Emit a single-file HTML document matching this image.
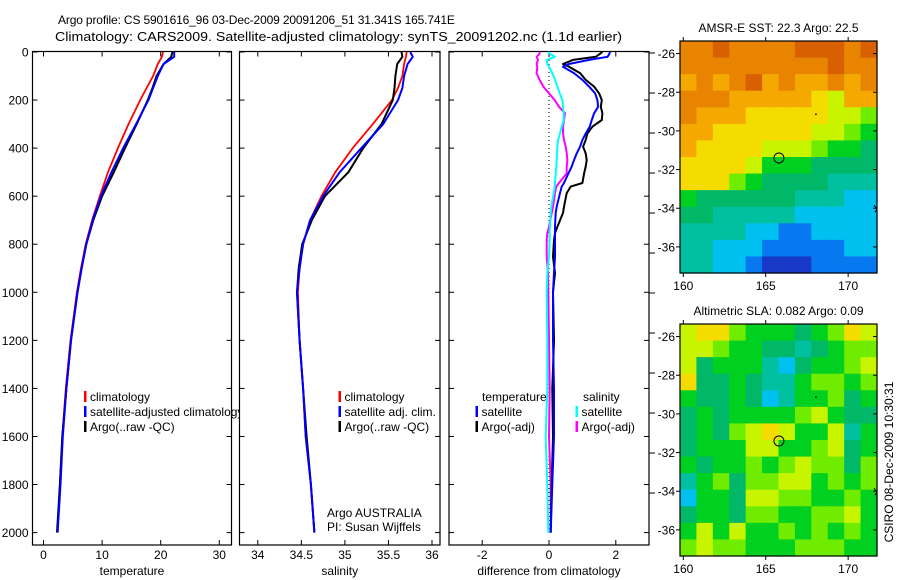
<!DOCTYPE html>
<html><head><meta charset="utf-8"><style>
html,body{margin:0;padding:0;background:#fff;}
svg{display:block;font-family:"Liberation Sans",sans-serif;}
</style></head><body>
<svg id="fig" width="900" height="580" viewBox="0 0 900 580" xmlns="http://www.w3.org/2000/svg">
<text x="58" y="24" font-size="12" letter-spacing="-0.15">Argo profile: CS 5901616_96 03-Dec-2009 20091206_51 31.341S 165.741E</text>
<text x="55" y="41" font-size="13" textLength="567" lengthAdjust="spacingAndGlyphs">Climatology: CARS2009. Satellite-adjusted climatology: synTS_20091202.nc (1.1d earlier)</text>
<g id="maps"></g>
<g id="panels"></g>
<text transform="translate(893,462) rotate(-90)" text-anchor="middle" font-size="12">CSIRO 08-Dec-2009 10:30:31</text>
</svg>
<script>
// ---- profile data ----
const depthT = [0,20,50,100,150,200,300,400,500,600,700,800,900,1000,1200,1400,1600,1800,2000];
const tempClim = [20.4,20.2,19.5,18.7,17.6,16.5,14.5,12.7,11,9.6,8.3,7.2,6.4,5.7,4.6,3.8,3.2,2.8,2.4];
const tempSat = [22.3,22.3,20.5,19.5,18.7,17.9,15.8,13.6,11.6,9.8,8.4,7.3,6.5,5.8,4.7,3.9,3.3,2.9,2.4];
const tempArgo = [22.0,21.8,20.5,19.3,18.6,17.8,15.9,13.9,12,10,8.5,7.3,6.5,5.8,4.7,3.9,3.2,2.8,2.3];
const salClim = [35.71,35.70,35.68,35.66,35.61,35.54,35.32,35.09,34.89,34.73,34.6,34.52,34.48,34.46,34.48,34.52,34.55,34.61,34.65];
const salSat = [35.75,35.78,35.72,35.68,35.66,35.61,35.44,35.19,34.94,34.75,34.6,34.52,34.48,34.45,34.48,34.52,34.55,34.61,34.65];
const salArgo = [35.65,35.66,35.6,35.58,35.57,35.55,35.42,35.21,35.04,34.77,34.62,34.51,34.47,34.45,34.48,34.52,34.56,34.61,34.65];
const depthD = [0,10,20,33,50,61,88,116,144,172,200,228,255,283,311,339,366,394,422,450,477,505,545,560,587,644,670,727,754,783,852,920,1000,1200,1400,1600,1800,2000];
const tDiffSat = [1.83,1.8,1.75,1.2,0.6,0.42,0.75,1.0,1.2,1.38,1.45,1.47,1.35,1.28,1.22,1.1,1.0,0.93,0.83,0.75,0.68,0.58,0.45,0.38,0.33,0.23,0.2,0.18,0.18,0.18,0.18,0.15,0.12,0.12,0.15,0.15,0.1,0.05];
const tDiffArgo = [1.6,1.5,1.4,0.72,0.42,0.6,0.93,1.1,1.35,1.5,1.58,1.55,1.6,1.58,1.3,1.15,1.1,1.02,1.1,1.13,1.1,1.05,1.0,0.65,0.53,0.45,0.42,0.25,0.18,0.15,0.12,0.18,0.12,0.15,0.1,0.12,0.08,0.05];
const sDiffSat = [-0.02,0.05,0.18,-0.07,-0.05,0.0,0.1,0.18,0.25,0.32,0.4,0.42,0.44,0.44,0.38,0.33,0.27,0.25,0.24,0.23,0.22,0.2,0.18,0.17,0.14,0.07,0.05,0.03,0.02,0.02,0.0,-0.05,-0.07,-0.05,-0.05,-0.1,-0.05,-0.02];
const sDiffArgo = [-0.27,-0.3,-0.37,-0.33,-0.37,-0.35,-0.37,-0.28,-0.17,0.0,0.17,0.3,0.48,0.45,0.42,0.42,0.45,0.5,0.53,0.55,0.53,0.53,0.3,0.22,0.18,0.12,0.08,0.0,-0.05,-0.07,-0.07,-0.03,-0.02,0.0,0.02,0.0,0.05,0.05];
const depthTicks = [0,200,400,600,800,1000,1200,1400,1600,1800,2000];
const tempTicks = [0,10,20,30];
const salTicks = [34,34.5,35,35.5,36];
const salTickLabels = ["34","34.5","35","35.5","36"];
const diffTicks = [-2,0,2];
// ---- map data (level codes per row, 12 cols x 14 rows) ----
const sstRows = ["aabaaaabbbab","aaaaaaaaabaa","9a9ab9a99a9a","aaa999998799","a99988888776","998888887765","988887776554","888875554444","888654444333","544444433322","443333322222","333322112222","332221111122","332210001111"];
const slaRows = ["788655545687","776554434566","745553245567","844543356656","544542355645","454555567544","454678755735","455577556745","545565676646","356466775656","255477665565","455466556675","575755656565","676655566655"];
const latTicks = [-26,-28,-30,-32,-34,-36];
const lonTicks = [160,165,170];
const argoLon = 165.8, argoLat = -31.4;

const NS = "http://www.w3.org/2000/svg";
function mk(tag, attrs, parent){const e=document.createElementNS(NS,tag);for(const k in attrs)e.setAttribute(k,attrs[k]);parent.appendChild(e);return e;}
const panels = document.getElementById('panels');
const maps = document.getElementById('maps');

const yD = d => 52 + d*0.2403;
const TOP=52-0.5, BOT=545;
const xT = v => 43.5 + v*5.86;
const xS = v => 257.8 + (v-34)*87.1;
const xDf = v => 549 + v*33.4;

function panel(x0,x1,name,xfun,ticks,labels,axisLabel,showY){
  const g = mk('g',{},panels);
  
  
  const r = mk('rect',{x:x0,y:TOP,width:x1-x0,height:BOT-TOP,fill:'#fff',stroke:'#000','stroke-width':1.2},g);
  
  
  depthTicks.forEach(d=>{
    const y=yD(d);
    mk('line',{x1:x0,x2:x0+5,y1:y,y2:y,stroke:'#000'},g);
    mk('line',{x1:x1-5,x2:x1,y1:y,y2:y,stroke:'#000'},g);
    if(showY){const t=mk('text',{x:x0-4,y:y+4.5,'text-anchor':'end','font-size':12},g);t.textContent=d;
      
      }
  });
  ticks.forEach((v,i)=>{
    const x=xfun(v);
    mk('line',{x1:x,x2:x,y1:BOT,y2:BOT-5,stroke:'#000'},g);
    mk('line',{x1:x,x2:x,y1:TOP,y2:TOP+5,stroke:'#000'},g);
    const t=mk('text',{x:x,y:559,'text-anchor':'middle','font-size':12},g);t.textContent=labels[i];
    
    
  });
  const al=mk('text',{x:(x0+x1)/2,y:575,'text-anchor':'middle','font-size':12},g);al.textContent=axisLabel;
  
  
  return g;
}
function line(g,depths,vals,xfun,color,w,name){
  const pts=depths.map((d,i)=>xfun(vals[i]).toFixed(1)+','+yD(d).toFixed(1)).join(' ');
  const p=mk('polyline',{points:pts,fill:'none',stroke:color,'stroke-width':w,'stroke-linejoin':'round'},g);
  
  
}
function legend(g,x,y,color,label,name){
  mk('rect',{x:x,y:y-10,width:2.5,height:11,fill:color},g);
  const t=mk('text',{x:x+6,y:y,'font-size':12},g);t.textContent=label;
  
  
}

// Panel 1
const g1=panel(32.5,231.5,'temperature-panel',xT,tempTicks,tempTicks.map(String),'temperature',true);
line(g1,depthT,tempClim,xT,'#f00',1.8,'temp-climatology-line');
line(g1,depthT,tempArgo,xT,'#000',2,'temp-argo-line');
line(g1,depthT,tempSat,xT,'#00f',2,'temp-satellite-line');
legend(g1,84,401,'#f00','climatology','legend-climatology');
legend(g1,84,416,'#00f','satellite-adjusted climatology','legend-satellite-adjusted');
legend(g1,84,431,'#000','Argo(..raw -QC)','legend-argo');
// Panel 2
const g2=panel(239.5,440,'salinity-panel',xS,salTicks,salTickLabels,'salinity',false);
line(g2,depthT,salClim,xS,'#f00',1.8,'sal-climatology-line');
line(g2,depthT,salArgo,xS,'#000',2,'sal-argo-line');
line(g2,depthT,salSat,xS,'#00f',2,'sal-satellite-line');
legend(g2,338.5,401,'#f00','climatology','legend-sal-climatology');
legend(g2,338.5,416,'#00f','satellite adj. clim.','legend-sal-satellite');
legend(g2,338.5,431,'#000','Argo(..raw -QC)','legend-sal-argo');
let t=mk('text',{x:327,y:517,'font-size':12},g2);t.textContent='Argo AUSTRALIA';

t=mk('text',{x:327,y:531,'font-size':12},g2);t.textContent='PI: Susan Wijffels';

// Panel 3
const g3=panel(449,649,'difference-panel',xDf,diffTicks,diffTicks.map(String),'difference from climatology',false);
mk('line',{x1:xDf(0),x2:xDf(0),y1:yD(0),y2:yD(2000),stroke:'#000','stroke-dasharray':'1,3'},g3);
line(g3,depthD,sDiffArgo,xDf,'#f0f',2,'sal-argo-diff-line');
line(g3,depthD,sDiffSat,xDf,'#0ff',2,'sal-satellite-diff-line');
line(g3,depthD,tDiffArgo,xDf,'#000',2,'temp-argo-diff-line');
line(g3,depthD,tDiffSat,xDf,'#00f',2,'temp-satellite-diff-line');
t=mk('text',{x:482,y:401,'font-size':12},g3);t.textContent='temperature';

t=mk('text',{x:583,y:401,'font-size':12},g3);t.textContent='salinity';

legend(g3,475.5,416,'#00f','satellite','legend-temp-satellite');
legend(g3,475.5,431,'#000','Argo(-adj)','legend-temp-argo');
legend(g3,575.5,416,'#0ff','satellite','legend-sal-satellite-diff');
legend(g3,575.5,431,'#f0f','Argo(-adj)','legend-sal-argo-diff');
for(let k=0;k<12;k++){const y=53+40*k;mk('line',{x1:649,x2:655,y1:y,y2:y,stroke:'#000'},panels);}

// Maps
const cmap={'0':'#1838c8','1':'#0878f0','2':'#00c0f0','3':'#00c0a0','4':'#00b868','5':'#00d020','6':'#70ec00','7':'#c8f400','8':'#f4dc00','9':'#f4a800','a':'#e88400','b':'#d86000'};
const MX0=680,MX1=877,LON0=159.8,LON1=171.75,LAT0=-25.35,LAT1=-37.35;
function drawMap(y0,rows,name,title){
  const y1=y0+232;
  const g=mk('g',{},maps);
  
  
  const nr=rows.length, nc=rows[0].length;
  const cw=(MX1-MX0)/nc, ch=(y1-y0)/nr;
  rows.forEach((row,r)=>{[...row].forEach((c,ci)=>{
    const cell=mk('rect',{x:(MX0+ci*cw).toFixed(2),y:(y0+r*ch).toFixed(2),width:(cw+0.6).toFixed(2),height:(ch+0.6).toFixed(2),fill:cmap[c]},g);
    
    
  });});
  const fr=mk('rect',{x:MX0,y:y0,width:MX1-MX0,height:y1-y0,fill:'none',stroke:'#000','stroke-width':1.2},g);
  
  
  const mxf=l=>MX0+(l-LON0)/(LON1-LON0)*(MX1-MX0);
  const myf=l=>y0+(l-LAT0)/(LAT1-LAT0)*(y1-y0);
  latTicks.forEach(l=>{const y=myf(l);
    mk('line',{x1:MX0-4,x2:MX0,y1:y,y2:y,stroke:'#000'},g);
    mk('line',{x1:MX1-4,x2:MX1,y1:y,y2:y,stroke:'#000'},g);
    const tt=mk('text',{x:MX0-5,y:y+4.5,'text-anchor':'end','font-size':12},g);tt.textContent=l;
    });
  lonTicks.forEach(l=>{const x=mxf(l);
    mk('line',{x1:x,x2:x,y1:y1,y2:y1+4,stroke:'#000'},g);
    mk('line',{x1:x,x2:x,y1:y0,y2:y0-4,stroke:'#000'},g);
    const tt=mk('text',{x:x,y:y1+17,'text-anchor':'middle','font-size':12},g);tt.textContent=l;
    });
  const c=mk('circle',{cx:mxf(argoLon),cy:myf(argoLat),r:5,fill:'none',stroke:'#000','stroke-width':1},g);
  
  
  mk('path',{d:`M${MX1-3},${myf(-34)-3} l3,4 l-2,3`,fill:'none',stroke:'#000'},g);
  mk('rect',{x:mxf(168),y:myf(-29.1),width:1.5,height:1.5,fill:'#000'},g);
  const ti=mk('text',{x:(MX0+MX1)/2,y:y0-9,'text-anchor':'middle','font-size':12},g);ti.textContent=title;
  
}
drawMap(41,sstRows,'sst-map','AMSR-E SST: 22.3 Argo: 22.5');
drawMap(324,slaRows,'sla-map','Altimetric SLA: 0.082 Argo: 0.09');
</script>
</body></html>
